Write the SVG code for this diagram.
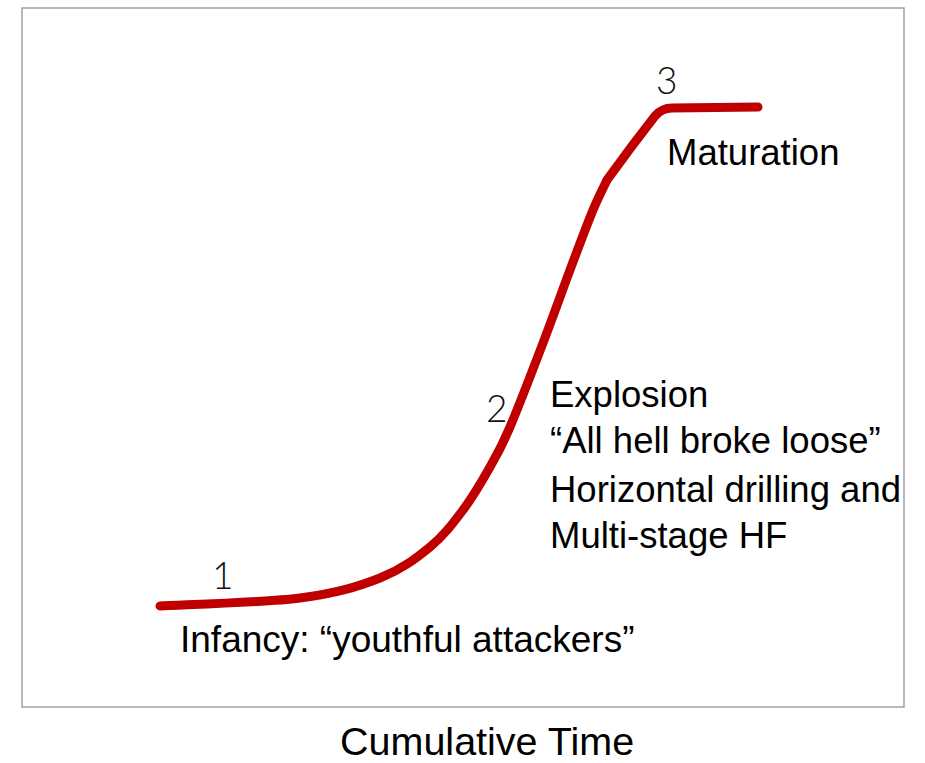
<svg xmlns="http://www.w3.org/2000/svg" width="925" height="763" viewBox="0 0 925 763">
<style>
.t{font-family:"Liberation Sans",Arial,sans-serif;fill:#000}
.n{font-family:Lato,"DejaVu Sans",sans-serif;fill:#111;font-size:37px;font-weight:300}
.curve{fill:none;stroke:#C00000;stroke-width:9;stroke-linecap:round;stroke-linejoin:round}
</style>
<rect width="925" height="763" fill="#fff"/>
<g id="frame"><rect x="22" y="8" width="882" height="699" fill="#fff" stroke="#a0a0a0" stroke-width="1.5"/></g>
<g id="connectors">
<path class="curve" d="M160,606 C183.3,604.7 263.3,602.7 300,598 C336.7,593.3 358.3,586.5 380,578 C401.7,569.5 416.2,558.3 430,547 C443.8,535.7 453,523.3 463,510 C473,496.7 482.2,480.8 490,467 C497.8,453.2 501.2,447.7 510,427 C518.8,406.3 533,369.2 543,343 C553,316.8 561.7,292.2 570,270 C578.3,247.8 586.8,225 593,210 C599.2,195 604.7,185 607,180 L632,146 L655,116 Q662,108 672,108 L758,107"/>
</g>
<g id="stage1">
<text class="n" x="212" y="589">1</text>
<text class="t" x="180" y="652" font-size="37">Infancy: “youthful attackers”</text>
</g>
<g id="stage2">
<text class="n" x="486" y="422">2</text>
<text class="t" x="550" y="407" font-size="36.5">Explosion</text>
<text class="t" x="550" y="453" font-size="36.5">“All hell broke loose”</text>
<text class="t" x="550" y="502" font-size="36.5">Horizontal drilling and</text>
<text class="t" x="550" y="548" font-size="36.5">Multi-stage HF</text>
</g>
<g id="stage3">
<text class="n" x="656" y="94">3</text>
<text class="t" x="667" y="165" font-size="36.5">Maturation</text>
</g>
<g id="axis">
<text class="t" x="340" y="755" font-size="39.5">Cumulative Time</text>
</g>
</svg>
